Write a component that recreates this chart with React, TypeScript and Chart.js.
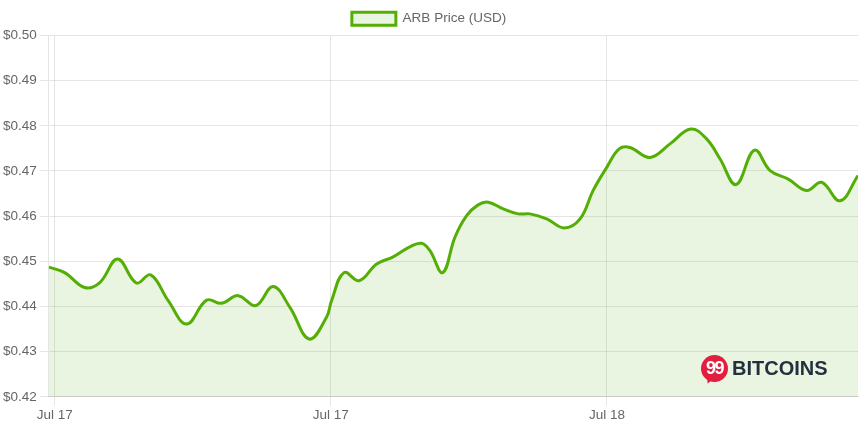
import React, { useEffect, useRef } from "react";
import { Chart, registerables } from "chart.js";

Chart.register(...registerables);

// Hours relative to Jul 17 00:00
const hours = [
  -0.26, 0.43, 1.3, 1.96, 2.73, 3.55, 4.17, 4.93, 5.73, 6.6, 7.25, 7.97, 8.74, 9.49,
  10.22, 11.06, 11.81, 12.03, 12.57, 13.23, 13.99, 14.71, 15.43, 15.94, 16.3, 16.86,
  17.39, 17.9, 18.4, 18.84, 19.49, 20.14, 20.65, 21.38, 22.14, 22.83, 23.4, 23.99,
  24.53, 25.0, 25.87, 26.74, 27.64, 28.33, 28.91, 29.61, 30.41, 31.09, 31.88, 32.68,
  33.33, 34.13, 34.91,
];
const prices = [
  0.4487, 0.4475, 0.4442, 0.4453, 0.4505, 0.4452, 0.447, 0.4413, 0.4361, 0.4414, 0.4407,
  0.4424, 0.4402, 0.4444, 0.4398, 0.4328, 0.4376, 0.4413, 0.4475, 0.4457, 0.4494, 0.451,
  0.4532, 0.454, 0.4524, 0.4475, 0.4553, 0.4601, 0.4625, 0.4631, 0.4616, 0.4605, 0.4605,
  0.4594, 0.4574, 0.4594, 0.4657, 0.4708, 0.4749, 0.4752, 0.473, 0.476, 0.4793, 0.4771,
  0.4727, 0.467, 0.4746, 0.4701, 0.4682, 0.4657, 0.4675, 0.4634, 0.469,
];
const tickHours = [0, 12, 24];
const tickLabels = ["Jul 17", "Jul 17", "Jul 18"];
const yTicks = [0.42, 0.43, 0.44, 0.45, 0.46, 0.47, 0.48, 0.49, 0.5];
const seriesLabel = "ARB Price (USD)";

const FONT = "'Liberation Sans', Arial, Helvetica, sans-serif";
const FS = 13.5;

export default function App() {
  const ref = useRef<HTMLCanvasElement | null>(null);
  useEffect(() => {
    document.body.style.margin = "0";
    const ctx = ref.current!;
    const chart = new Chart(ctx, {
      type: "line",
      data: {
        datasets: [
          {
            label: seriesLabel,
            data: hours.map((h, i) => ({ x: h, y: prices[i] })),
            borderColor: "rgb(84,174,6)",
            backgroundColor: "rgba(84,174,6,0.12)",
            borderWidth: 3,
            pointRadius: 0,
            tension: 0.4,
            fill: "start",
          },
        ],
      },
      options: {
        animation: false,
        responsive: true,
        maintainAspectRatio: false,
        layout: { padding: { left: 0, right: 1, top: 0, bottom: 5 } },
        plugins: {
          legend: {
            labels: {
              font: { family: FONT, size: FS },
              color: "#666",
              boxWidth: 44,
              boxHeight: 13,
              padding: 12,
            },
          },
          tooltip: { enabled: false },
        },
        scales: {
          x: {
            type: "linear",
            min: hours[0],
            max: hours[hours.length - 1],
            afterBuildTicks: (scale: any) => {
              scale.ticks = tickHours.map((v) => ({ value: v }));
            },
            ticks: {
              font: { family: FONT, size: FS },
              color: "#666",
              maxRotation: 0,
              padding: 1,
              callback: (v: any) => {
                const i = tickHours.indexOf(Number(v));
                return i >= 0 ? tickLabels[i] : null;
              },
            },
            grid: { color: "rgba(0,0,0,0.1)", tickLength: 9 },
          },
          y: {
            min: yTicks[0],
            max: yTicks[yTicks.length - 1],
            afterBuildTicks: (scale: any) => {
              scale.ticks = yTicks.map((v) => ({ value: v }));
            },
            ticks: {
              font: { family: FONT, size: FS },
              color: "#666",
              callback: (v: any) => "$" + Number(v).toFixed(2),
            },
            grid: { color: "rgba(0,0,0,0.1)", tickLength: 9 },
          },
        },
      },
    });
    return () => chart.destroy();
  }, []);

  return (
    <div style={{ position: "absolute", left: 0, top: 0, width: 859, height: 429 }}>
      <canvas ref={ref} />
      <div
        style={{
          position: "absolute",
          left: 701,
          top: 355,
          width: 27,
          height: 27,
          borderRadius: "50%",
          background: "#e21f3f",
          color: "#fff",
          fontFamily: FONT,
          fontWeight: 700,
          fontSize: 18,
          lineHeight: "27px",
          textAlign: "center",
          letterSpacing: -1.5,
        }}
      >
        99
        <div
          style={{
            position: "absolute",
            left: 4,
            top: 21,
            width: 0,
            height: 0,
            borderLeft: "4px solid transparent",
            borderRight: "5px solid transparent",
            borderTop: "8px solid #e21f3f",
            transform: "rotate(20deg)",
          }}
        />
      </div>
      <div
        style={{
          position: "absolute",
          left: 732,
          top: 356,
          fontFamily: FONT,
          fontWeight: 700,
          fontSize: 20,
          lineHeight: "24px",
          color: "#25303f",
        }}
      >
        BITCOINS
      </div>
    </div>
  );
}
